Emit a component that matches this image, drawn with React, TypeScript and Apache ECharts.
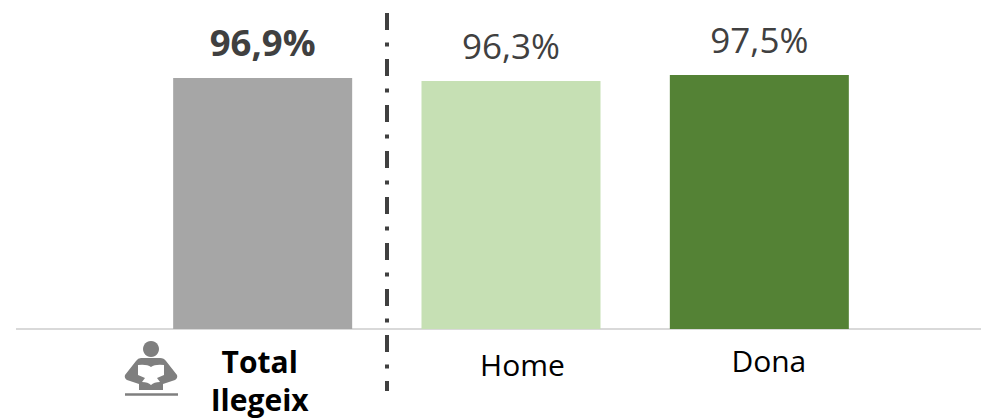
import React, { useEffect, useRef } from "react";
import * as echarts from "echarts";

const categories = ["Total\nIlegeix", "Home", "Dona"];
const values = [96.9, 96.3, 97.5];
const barColors = ["#a6a6a6", "#c6e0b4", "#548235"];
const valueLabels = ["96,9%", "96,3%", "97,5%"];

echarts.graphic.registerShape(
  "readerBody",
  echarts.graphic.extendPath(
    "M141 358 L160 358 Q164 358 166 361 L177 375 Q178 378 175 380 L163 384 L163 390 L139 390 L139 384 L127 380 Q124 378 125 375 L136 361 Q138 358 141 358 Z",
    {}
  )
);
echarts.graphic.registerShape(
  "readerBook",
  echarts.graphic.extendPath(
    "M138 365 Q147 364 151 367 Q155 364 164 365 L164 375 L157 378 L160 382 Q154 382 151 385 Q148 382 142 382 L145 378 L138 375 Z",
    {}
  )
);

export default function App() {
  const ref = useRef<HTMLDivElement>(null);
  useEffect(() => {
    const chart = echarts.init(ref.current!, undefined, { renderer: "svg" });
    const font = "'Open Sans', sans-serif";
    chart.setOption({
      animation: false,
      grid: { left: 138.5, right: 97.5, top: 62.5, height: 266.5, outerBoundsMode: "none" },
      xAxis: {
        type: "category",
        data: [
          { value: categories[0], textStyle: { fontWeight: "bold", color: "#000000", lineHeight: 38, padding: [0, 6, 0, 0] } },
          { value: categories[1], textStyle: { padding: [6, 0, 0, 23] } },
          { value: categories[2], textStyle: { padding: [2, 0, 0, 19] } },
        ],
        axisLine: { show: false },
        axisTick: { show: false },
        axisLabel: { interval: 0, margin: 13, fontSize: 30, color: "#000000", fontFamily: font, lineHeight: 32 },
      },
      yAxis: { type: "value", min: 46.7, max: 100, show: false, splitLine: { show: false } },
      series: [
        {
          type: "bar",
          barWidth: 179,
          data: values.map((v, i) => ({
            value: v,
            itemStyle: { color: barColors[i] },
            label: {
              show: true,
              position: "top",
              distance: 18,
              formatter: valueLabels[i],
              fontFamily: font,
              fontSize: i === 0 ? 36.5 : 35,
              color: "#404040",
              fontWeight: i === 0 ? "bold" : "normal",
            },
          })),
        },
      ],
      graphic: [
        { type: "line", silent: true, shape: { x1: 16, y1: 329, x2: 981, y2: 329 }, style: { stroke: "#d9d9d9", lineWidth: 2 } },
        {
          type: "line",
          silent: true,
          shape: { x1: 387, y1: 13, x2: 387, y2: 391 },
          style: { stroke: "#404040", lineWidth: 4, lineDash: [17, 12.5, 4, 12.5] },
        },
        { type: "circle", silent: true, shape: { cx: 151, cy: 349, r: 8 }, style: { fill: "#7f7f7f" } },
        { type: "readerBody", silent: true, style: { fill: "#7f7f7f" } },
        { type: "readerBook", silent: true, style: { fill: "#ffffff" } },
        { type: "line", silent: true, shape: { x1: 125, y1: 394.5, x2: 178, y2: 394.5 }, style: { stroke: "#7f7f7f", lineWidth: 2.5 } },
      ],
    });
    return () => chart.dispose();
  }, []);
  return <div ref={ref} style={{ position: "absolute", left: 0, top: 0, width: 981, height: 418 }} />;
}
